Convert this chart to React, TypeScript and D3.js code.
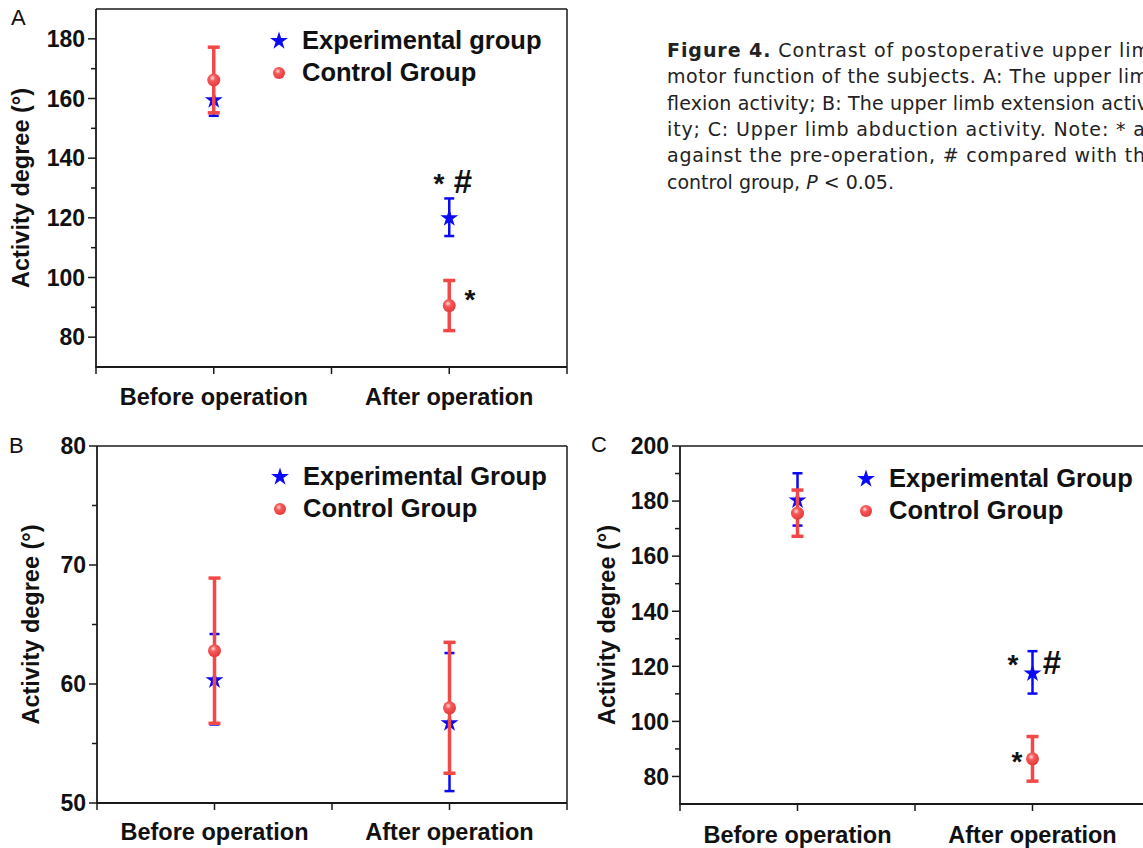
import React from "react";
import * as d3 from "d3";

const categories = ["Before operation", "After operation"];
const categoryPos = [1, 2];
const xTickVals = [0.5, 1, 1.5, 2, 2.5];

// Panel A: flexion
const aExpMean = [159.8, 120.2];
const aExpErr = [5.6, 6.3];
const aCtrlMean = [166.2, 90.6];
const aCtrlErr = [11, 8.4];
const aMajor = [80, 100, 120, 140, 160, 180];
const aMinor = [90, 110, 130, 150, 170];
const aDomain = [70, 190];

// Panel B: extension
const bExpMean = [60.4, 56.8];
const bExpErr = [3.8, 5.8];
const bCtrlMean = [62.8, 58.0];
const bCtrlErr = [6.1, 5.5];
const bMajor = [50, 60, 70, 80];
const bMinor = [55, 65, 75];
const bDomain = [50, 80];

// Panel C: abduction
const cExpMean = [180.6, 117.8];
const cExpErr = [9.5, 7.7];
const cCtrlMean = [175.6, 86.4];
const cCtrlErr = [8.4, 8.1];
const cMajor = [80, 100, 120, 140, 160, 180, 200];
const cMinor = [90, 110, 130, 150, 170, 190];
const cDomain = [70, 200];

const legendA = ["Experimental group", "Control Group"];
const legendBC = ["Experimental Group", "Control Group"];

const captionLines = [
  "Contrast of postoperative upper lim",
  "motor function of the subjects. A: The upper lim",
  "flexion activity; B: The upper limb extension activ",
  "ity; C: Upper limb abduction activity. Note: * a",
  "against the pre-operation, # compared with th",
];

const BLUE = "#0a0af5";
const RED = "#f24848";
const FONT = "'Liberation Sans', Arial, sans-serif";
const CAPFONT = "'DejaVu Sans', sans-serif";

type Ann = { text: string; x: number; y: number };

type PanelProps = {
  label: string;
  lx: number;
  ly: number;
  x0: number;
  x1: number;
  yTop: number;
  yBot: number;
  domain: number[];
  major: number[];
  minor: number[];
  expMean: number[];
  expErr: number[];
  ctrlMean: number[];
  ctrlErr: number[];
  legend: string[];
  legX: number;
  legY: number;
  ylabX: number;
  xlabY: number;
  anns: Ann[];
};

const star = d3.symbol().type(d3.symbolStar).size(100)();

function Panel(p: PanelProps) {
  const x = d3.scaleLinear().domain([0.5, 2.5]).range([p.x0, p.x1]);
  const y = d3.scaleLinear().domain(p.domain).range([p.yBot, p.yTop]);
  const axisColor = "#1a1a1a";
  const errBar = (cx: number, m: number, e: number, color: string, w: number, cap: number, key: string) => (
    <g key={key} stroke={color} strokeWidth={w}>
      <line x1={cx} x2={cx} y1={y(m + e)} y2={y(m - e)} />
      <line x1={cx - cap / 2} x2={cx + cap / 2} y1={y(m + e)} y2={y(m + e)} />
      <line x1={cx - cap / 2} x2={cx + cap / 2} y1={y(m - e)} y2={y(m - e)} />
    </g>
  );
  return (
    <g>
      <text x={p.lx} y={p.ly} fontFamily={FONT} fontSize={22} fill="#111">
        {p.label}
      </text>
      {/* frame */}
      <line x1={p.x0} x2={p.x1} y1={p.yTop} y2={p.yTop} stroke={axisColor} strokeWidth={1.5} />
      <line x1={p.x1} x2={p.x1} y1={p.yTop} y2={p.yBot} stroke={axisColor} strokeWidth={1.5} />
      <line x1={p.x0} x2={p.x0} y1={p.yTop} y2={p.yBot + 1} stroke={axisColor} strokeWidth={1.8} />
      <line x1={p.x0} x2={p.x1} y1={p.yBot} y2={p.yBot} stroke={axisColor} strokeWidth={1.8} />
      {/* y ticks */}
      {p.major.map((t) => (
        <g key={"M" + t}>
          <line x1={p.x0 - 8} x2={p.x0} y1={y(t)} y2={y(t)} stroke={axisColor} strokeWidth={1.5} />
          <text
            x={p.x0 - 11}
            y={y(t)}
            dy="0.36em"
            textAnchor="end"
            fontFamily={FONT}
            fontWeight="bold"
            fontSize={23}
            fill="#111"
          >
            {t}
          </text>
        </g>
      ))}
      {p.minor.map((t) => (
        <line key={"m" + t} x1={p.x0 - 5} x2={p.x0} y1={y(t)} y2={y(t)} stroke={axisColor} strokeWidth={1.5} />
      ))}
      {/* x ticks */}
      {xTickVals.map((t) => (
        <line key={"x" + t} x1={x(t)} x2={x(t)} y1={p.yBot} y2={p.yBot + 7} stroke={axisColor} strokeWidth={1.5} />
      ))}
      {categories.map((c, i) => (
        <text
          key={c}
          x={x(categoryPos[i])}
          y={p.xlabY}
          textAnchor="middle"
          fontFamily={FONT}
          fontWeight="bold"
          fontSize={23.5}
          fill="#111"
        >
          {c}
        </text>
      ))}
      <text
        transform={`translate(${p.ylabX},${(p.yTop + p.yBot) / 2}) rotate(-90)`}
        textAnchor="middle"
        dy="0.36em"
        fontFamily={FONT}
        fontWeight="bold"
        fontSize={23.5}
        fill="#111"
      >
        Activity degree (°)
      </text>
      {/* experimental */}
      {categoryPos.map((c, i) => errBar(x(c), p.expMean[i], p.expErr[i], BLUE, 2.5, 10, "eb" + i))}
      {categoryPos.map((c, i) => (
        <path key={"es" + i} d={star || ""} transform={`translate(${x(c)},${y(p.expMean[i]) + 1})`} fill={BLUE} />
      ))}
      {/* control */}
      {categoryPos.map((c, i) => errBar(x(c), p.ctrlMean[i], p.ctrlErr[i], RED, 3.5, 12, "cb" + i))}
      {categoryPos.map((c, i) => (
        <circle key={"cc" + i} cx={x(c)} cy={y(p.ctrlMean[i])} r={6.5} fill="url(#sphere)" />
      ))}
      {/* legend */}
      <path d={star || ""} transform={`translate(${p.legX - 23},${p.legY - 8})`} fill={BLUE} />
      <text x={p.legX} y={p.legY} fontFamily={FONT} fontWeight="bold" fontSize={25.5} fill="#111">
        {p.legend[0]}
      </text>
      <circle cx={p.legX - 23} cy={p.legY + 32 - 8} r={6} fill="url(#sphere)" />
      <text x={p.legX} y={p.legY + 32} fontFamily={FONT} fontWeight="bold" fontSize={25.5} fill="#111">
        {p.legend[1]}
      </text>
      {p.anns.map((a, i) => (
        <text
          key={"an" + i}
          x={a.x}
          y={a.y}
          textAnchor="middle"
          fontFamily={FONT}
          fontWeight="bold"
          fontSize={a.text === "#" ? 33 : 28}
          fill="#111"
        >
          {a.text}
        </text>
      ))}
    </g>
  );
}

export default function App() {
  return (
    <svg
      width={1143}
      height={848}
      style={{ position: "absolute", left: 0, top: 0, background: "#fff" }}
      xmlns="http://www.w3.org/2000/svg"
    >
      <defs>
        <radialGradient id="sphere" cx="0.4" cy="0.35" r="0.65">
          <stop offset="0" stopColor="#ffe0e0" />
          <stop offset="0.35" stopColor="#f75a5a" />
          <stop offset="1" stopColor="#e53a3a" />
        </radialGradient>
      </defs>
      <rect x={0} y={0} width={1143} height={848} fill="#fff" />
      <Panel
        label="A"
        lx={11}
        ly={25}
        x0={96}
        x1={567}
        yTop={9}
        yBot={367}
        domain={aDomain}
        major={aMajor}
        minor={aMinor}
        expMean={aExpMean}
        expErr={aExpErr}
        ctrlMean={aCtrlMean}
        ctrlErr={aCtrlErr}
        legend={legendA}
        legX={302}
        legY={49}
        ylabX={21}
        xlabY={405}
        anns={[
          { text: "*", x: 439, y: 193 },
          { text: "#", x: 463, y: 193 },
          { text: "*", x: 470, y: 309 },
        ]}
      />
      <Panel
        label="B"
        lx={9}
        ly={453}
        x0={97}
        x1={567}
        yTop={446}
        yBot={803}
        domain={bDomain}
        major={bMajor}
        minor={bMinor}
        expMean={bExpMean}
        expErr={bExpErr}
        ctrlMean={bCtrlMean}
        ctrlErr={bCtrlErr}
        legend={legendBC}
        legX={303}
        legY={485}
        ylabX={31}
        xlabY={840}
        anns={[]}
      />
      <Panel
        label="C"
        lx={591}
        ly={452}
        x0={680}
        x1={1150}
        yTop={446}
        yBot={804}
        domain={cDomain}
        major={cMajor}
        minor={cMinor}
        expMean={cExpMean}
        expErr={cExpErr}
        ctrlMean={cCtrlMean}
        ctrlErr={cCtrlErr}
        legend={legendBC}
        legX={889}
        legY={487}
        ylabX={607}
        xlabY={843}
        anns={[
          { text: "*", x: 1013, y: 674 },
          { text: "#", x: 1052, y: 674 },
          { text: "*", x: 1017, y: 771 },
        ]}
      />
      {/* caption */}
      <g fontFamily={CAPFONT} fontSize={19} fill="#222">
        <text x={667} y={57} textLength={483} lengthAdjust="spacing">
          <tspan fontWeight="bold">Figure 4.</tspan> {captionLines[0]}
        </text>
        {captionLines.slice(1).map((l, i) => (
          <text key={i} x={667} y={57 + 26.3 * (i + 1)} textLength={[481, 481, 478, 478][i]} lengthAdjust="spacing">
            {l}
          </text>
        ))}
        <text x={667} y={57 + 26.3 * 5}>
          control group, <tspan fontStyle="italic">P</tspan> {"< 0.05."}
        </text>
      </g>
    </svg>
  );
}
